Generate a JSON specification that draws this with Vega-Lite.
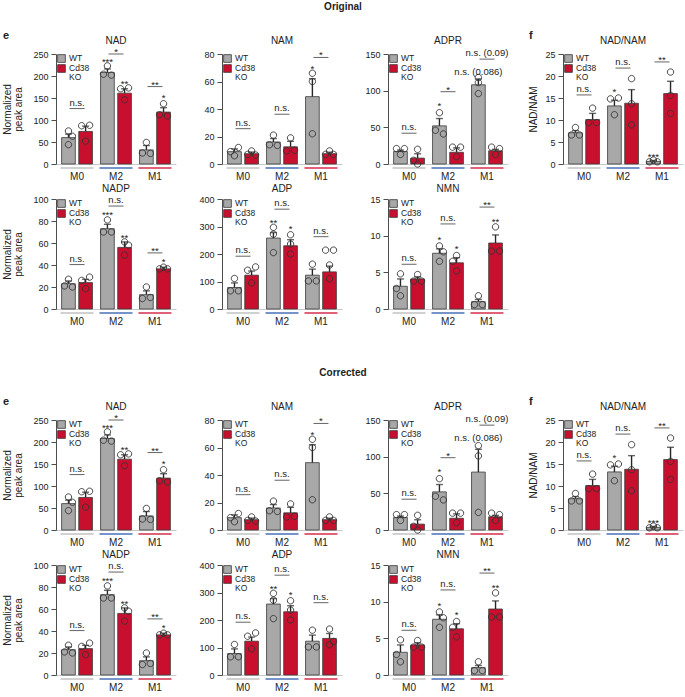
{
"$schema":"https://vega.github.io/schema/vega-lite/v6.json",
"padding":{"left":2,"right":2,"top":2,"bottom":0},
"config":{"view":{"stroke":null},"font":"Liberation Sans",
"axis":{"labelFontSize":9,"labelColor":"#222222","tickColor":"#4d4d4d","domainColor":"#4d4d4d","tickSize":5,"labelPadding":3,"titleFontSize":10,"titleFontWeight":"normal","titleColor":"#222222","grid":false,"titlePadding":9,"titleLineHeight":11},
"title":{"fontSize":10,"fontWeight":"normal","color":"#222222","offset":5}},
"datasets":{"d":[
{"p":"NAD","g":"M0","gt":"WT","k":"bar","v":60,"hi":68},
{"p":"NAD","g":"M0","gt":"KO","k":"bar","v":74,"hi":86},
{"p":"NAD","g":"M2","gt":"WT","k":"bar","v":208,"hi":216},
{"p":"NAD","g":"M2","gt":"KO","k":"bar","v":161,"hi":171},
{"p":"NAD","g":"M1","gt":"WT","k":"bar","v":32,"hi":42},
{"p":"NAD","g":"M1","gt":"KO","k":"bar","v":118,"hi":128},
{"p":"NAD","g":"M0","gt":"WT","k":"pt","r":2,"v":75},
{"p":"NAD","g":"M0","gt":"WT","k":"pt","r":3,"v":63},
{"p":"NAD","g":"M0","gt":"WT","k":"pt","r":2,"v":44},
{"p":"NAD","g":"M0","gt":"KO","k":"pt","r":1,"v":87},
{"p":"NAD","g":"M0","gt":"KO","k":"pt","r":3,"v":88},
{"p":"NAD","g":"M0","gt":"KO","k":"pt","r":2,"v":52},
{"p":"NAD","g":"M2","gt":"WT","k":"pt","r":2,"v":223},
{"p":"NAD","g":"M2","gt":"WT","k":"pt","r":1,"v":204},
{"p":"NAD","g":"M2","gt":"WT","k":"pt","r":3,"v":202},
{"p":"NAD","g":"M2","gt":"KO","k":"pt","r":1,"v":171},
{"p":"NAD","g":"M2","gt":"KO","k":"pt","r":3,"v":173},
{"p":"NAD","g":"M2","gt":"KO","k":"pt","r":2,"v":146},
{"p":"NAD","g":"M1","gt":"WT","k":"pt","r":2,"v":49},
{"p":"NAD","g":"M1","gt":"WT","k":"pt","r":1,"v":25},
{"p":"NAD","g":"M1","gt":"WT","k":"pt","r":3,"v":24},
{"p":"NAD","g":"M1","gt":"KO","k":"pt","r":2,"v":137},
{"p":"NAD","g":"M1","gt":"KO","k":"pt","r":1,"v":112},
{"p":"NAD","g":"M1","gt":"KO","k":"pt","r":3,"v":109},
{"p":"NAD","g":"M2","gt":"WT","k":"st","t":"***","v":224},
{"p":"NAD","g":"M2","gt":"KO","k":"st","t":"**","v":176},
{"p":"NAD","g":"M1","gt":"KO","k":"st","t":"*","v":143},
{"p":"NAD","g":"M0","k":"br","t":"n.s.","v":126},
{"p":"NAD","g":"M2","k":"br","t":"*","v":250},
{"p":"NAD","g":"M1","k":"br","t":"**","v":176},
{"p":"NAM","g":"M0","gt":"WT","k":"bar","v":9,"hi":11},
{"p":"NAM","g":"M0","gt":"KO","k":"bar","v":7.5,"hi":8.7},
{"p":"NAM","g":"M2","gt":"WT","k":"bar","v":16,"hi":18.5},
{"p":"NAM","g":"M2","gt":"KO","k":"bar","v":12.5,"hi":16.5},
{"p":"NAM","g":"M1","gt":"WT","k":"bar","v":49,"hi":62},
{"p":"NAM","g":"M1","gt":"KO","k":"bar","v":7.5,"hi":8.6},
{"p":"NAM","g":"M0","gt":"WT","k":"pt","r":3,"v":12},
{"p":"NAM","g":"M0","gt":"WT","k":"pt","r":1,"v":9},
{"p":"NAM","g":"M0","gt":"WT","k":"pt","r":2,"v":6},
{"p":"NAM","g":"M0","gt":"KO","k":"pt","r":2,"v":9.5},
{"p":"NAM","g":"M0","gt":"KO","k":"pt","r":1,"v":7},
{"p":"NAM","g":"M0","gt":"KO","k":"pt","r":3,"v":6.5},
{"p":"NAM","g":"M2","gt":"WT","k":"pt","r":2,"v":21},
{"p":"NAM","g":"M2","gt":"WT","k":"pt","r":1,"v":14},
{"p":"NAM","g":"M2","gt":"WT","k":"pt","r":3,"v":13.5},
{"p":"NAM","g":"M2","gt":"KO","k":"pt","r":2,"v":19},
{"p":"NAM","g":"M2","gt":"KO","k":"pt","r":1,"v":9.5},
{"p":"NAM","g":"M2","gt":"KO","k":"pt","r":3,"v":10},
{"p":"NAM","g":"M1","gt":"WT","k":"pt","r":2,"v":66},
{"p":"NAM","g":"M1","gt":"WT","k":"pt","r":2,"v":60},
{"p":"NAM","g":"M1","gt":"WT","k":"pt","r":2,"v":22},
{"p":"NAM","g":"M1","gt":"KO","k":"pt","r":2,"v":9.5},
{"p":"NAM","g":"M1","gt":"KO","k":"pt","r":1,"v":7},
{"p":"NAM","g":"M1","gt":"KO","k":"pt","r":3,"v":7},
{"p":"NAM","g":"M1","gt":"WT","k":"st","t":"*","v":67},
{"p":"NAM","g":"M0","k":"br","t":"n.s.","v":25.7},
{"p":"NAM","g":"M2","k":"br","t":"n.s.","v":36.2},
{"p":"NAM","g":"M1","k":"br","t":"*","v":77.5},
{"p":"ADPR","g":"M0","gt":"WT","k":"bar","v":17,"hi":19},
{"p":"ADPR","g":"M0","gt":"KO","k":"bar","v":8,"hi":14},
{"p":"ADPR","g":"M2","gt":"WT","k":"bar","v":52,"hi":62},
{"p":"ADPR","g":"M2","gt":"KO","k":"bar","v":16,"hi":22},
{"s":"O","p":"ADPR","g":"M1","gt":"WT","k":"bar","v":108,"hi":116},
{"s":"C","p":"ADPR","g":"M1","gt":"WT","k":"bar","v":79,"hi":110},
{"p":"ADPR","g":"M1","gt":"KO","k":"bar","v":18,"hi":20},
{"p":"ADPR","g":"M0","gt":"WT","k":"pt","r":1,"v":21},
{"p":"ADPR","g":"M0","gt":"WT","k":"pt","r":3,"v":21},
{"p":"ADPR","g":"M0","gt":"WT","k":"pt","r":2,"v":13},
{"p":"ADPR","g":"M0","gt":"KO","k":"pt","r":2,"v":20},
{"p":"ADPR","g":"M0","gt":"KO","k":"pt","r":1,"v":5},
{"p":"ADPR","g":"M0","gt":"KO","k":"pt","r":2,"v":0},
{"p":"ADPR","g":"M2","gt":"WT","k":"pt","r":2,"v":70},
{"p":"ADPR","g":"M2","gt":"WT","k":"pt","r":1,"v":46},
{"p":"ADPR","g":"M2","gt":"WT","k":"pt","r":3,"v":41},
{"p":"ADPR","g":"M2","gt":"KO","k":"pt","r":1,"v":23},
{"p":"ADPR","g":"M2","gt":"KO","k":"pt","r":3,"v":23},
{"p":"ADPR","g":"M2","gt":"KO","k":"pt","r":2,"v":10},
{"s":"O","p":"ADPR","g":"M1","gt":"WT","k":"pt","r":2,"v":118},
{"s":"O","p":"ADPR","g":"M1","gt":"WT","k":"pt","r":2,"v":111},
{"s":"O","p":"ADPR","g":"M1","gt":"WT","k":"pt","r":2,"v":96},
{"s":"C","p":"ADPR","g":"M1","gt":"WT","k":"pt","r":2,"v":115},
{"s":"C","p":"ADPR","g":"M1","gt":"WT","k":"pt","r":2,"v":101},
{"s":"C","p":"ADPR","g":"M1","gt":"WT","k":"pt","r":2,"v":24},
{"p":"ADPR","g":"M1","gt":"KO","k":"pt","r":1,"v":23},
{"p":"ADPR","g":"M1","gt":"KO","k":"pt","r":3,"v":21},
{"p":"ADPR","g":"M1","gt":"KO","k":"pt","r":2,"v":13},
{"p":"ADPR","g":"M2","gt":"WT","k":"st","t":"*","v":75},
{"p":"ADPR","g":"M1","gt":"WT","k":"st","t":"n.s. (0.086)","v":122},
{"p":"ADPR","g":"M0","k":"br","t":"n.s.","v":42},
{"p":"ADPR","g":"M2","k":"br","t":"*","v":98.6},
{"p":"ADPR","g":"M1","k":"br","t":"n.s. (0.09)","v":143},
{"p":"RAT","g":"M0","gt":"WT","k":"bar","v":7.1,"hi":7.6},
{"p":"RAT","g":"M0","gt":"KO","k":"bar","v":10.1,"hi":11.5},
{"p":"RAT","g":"M2","gt":"WT","k":"bar","v":13.2,"hi":14.5},
{"p":"RAT","g":"M2","gt":"KO","k":"bar","v":13.8,"hi":16.9},
{"p":"RAT","g":"M1","gt":"WT","k":"bar","v":0.6,"hi":0.8},
{"p":"RAT","g":"M1","gt":"KO","k":"bar","v":16,"hi":18.8},
{"p":"RAT","g":"M0","gt":"WT","k":"pt","r":2,"v":8.3},
{"p":"RAT","g":"M0","gt":"WT","k":"pt","r":1,"v":6.6},
{"p":"RAT","g":"M0","gt":"WT","k":"pt","r":3,"v":6.6},
{"p":"RAT","g":"M0","gt":"KO","k":"pt","r":2,"v":12.7},
{"p":"RAT","g":"M0","gt":"KO","k":"pt","r":1,"v":9.4},
{"p":"RAT","g":"M0","gt":"KO","k":"pt","r":3,"v":9.4},
{"p":"RAT","g":"M2","gt":"WT","k":"pt","r":3,"v":15},
{"p":"RAT","g":"M2","gt":"WT","k":"pt","r":1,"v":14.8},
{"p":"RAT","g":"M2","gt":"WT","k":"pt","r":2,"v":11.2},
{"p":"RAT","g":"M2","gt":"KO","k":"pt","r":2,"v":19.4},
{"p":"RAT","g":"M2","gt":"KO","k":"pt","r":2,"v":13.7},
{"p":"RAT","g":"M2","gt":"KO","k":"pt","r":2,"v":8.9},
{"p":"RAT","g":"M1","gt":"WT","k":"pt","r":2,"v":0.9},
{"p":"RAT","g":"M1","gt":"WT","k":"pt","r":1,"v":0.5},
{"p":"RAT","g":"M1","gt":"WT","k":"pt","r":3,"v":0.5},
{"p":"RAT","g":"M1","gt":"KO","k":"pt","r":2,"v":20.9},
{"p":"RAT","g":"M1","gt":"KO","k":"pt","r":2,"v":15.6},
{"p":"RAT","g":"M1","gt":"KO","k":"pt","r":2,"v":11.5},
{"p":"RAT","g":"M2","gt":"WT","k":"st","t":"*","v":15.6},
{"p":"RAT","g":"M1","gt":"WT","k":"st","t":"***","v":0.8},
{"p":"RAT","g":"M0","k":"br","t":"n.s.","v":15.7},
{"p":"RAT","g":"M2","k":"br","t":"n.s.","v":21.8},
{"p":"RAT","g":"M1","k":"br","t":"**","v":23.2},
{"p":"NADP","g":"M0","gt":"WT","k":"bar","v":23,"hi":25.5},
{"p":"NADP","g":"M0","gt":"KO","k":"bar","v":24,"hi":27},
{"p":"NADP","g":"M2","gt":"WT","k":"bar","v":73,"hi":77},
{"p":"NADP","g":"M2","gt":"KO","k":"bar","v":56,"hi":61},
{"p":"NADP","g":"M1","gt":"WT","k":"bar","v":13,"hi":16.5},
{"p":"NADP","g":"M1","gt":"KO","k":"bar","v":36.5,"hi":38},
{"p":"NADP","g":"M0","gt":"WT","k":"pt","r":2,"v":27},
{"p":"NADP","g":"M0","gt":"WT","k":"pt","r":1,"v":21},
{"p":"NADP","g":"M0","gt":"WT","k":"pt","r":3,"v":20},
{"p":"NADP","g":"M0","gt":"KO","k":"pt","r":3,"v":29},
{"p":"NADP","g":"M0","gt":"KO","k":"pt","r":1,"v":26},
{"p":"NADP","g":"M0","gt":"KO","k":"pt","r":2,"v":18.5},
{"p":"NADP","g":"M2","gt":"WT","k":"pt","r":2,"v":81},
{"p":"NADP","g":"M2","gt":"WT","k":"pt","r":1,"v":70},
{"p":"NADP","g":"M2","gt":"WT","k":"pt","r":3,"v":70},
{"p":"NADP","g":"M2","gt":"KO","k":"pt","r":2,"v":61},
{"p":"NADP","g":"M2","gt":"KO","k":"pt","r":3,"v":58},
{"p":"NADP","g":"M2","gt":"KO","k":"pt","r":2,"v":49},
{"p":"NADP","g":"M1","gt":"WT","k":"pt","r":2,"v":20},
{"p":"NADP","g":"M1","gt":"WT","k":"pt","r":1,"v":9.5},
{"p":"NADP","g":"M1","gt":"WT","k":"pt","r":3,"v":10.5},
{"p":"NADP","g":"M1","gt":"KO","k":"pt","r":2,"v":38},
{"p":"NADP","g":"M1","gt":"KO","k":"pt","r":1,"v":36.5},
{"p":"NADP","g":"M1","gt":"KO","k":"pt","r":3,"v":36.5},
{"p":"NADP","g":"M2","gt":"WT","k":"st","t":"***","v":82.5},
{"p":"NADP","g":"M2","gt":"KO","k":"st","t":"**","v":62},
{"p":"NADP","g":"M1","gt":"KO","k":"st","t":"*","v":40},
{"p":"NADP","g":"M0","k":"br","t":"n.s.","v":40.4},
{"p":"NADP","g":"M2","k":"br","t":"n.s.","v":93.6},
{"p":"NADP","g":"M1","k":"br","t":"**","v":51},
{"p":"ADP","g":"M0","gt":"WT","k":"bar","v":78,"hi":95},
{"p":"ADP","g":"M0","gt":"KO","k":"bar","v":123,"hi":138},
{"p":"ADP","g":"M2","gt":"WT","k":"bar","v":258,"hi":278},
{"p":"ADP","g":"M2","gt":"KO","k":"bar","v":230,"hi":252},
{"p":"ADP","g":"M1","gt":"WT","k":"bar","v":123,"hi":145},
{"s":"O","p":"ADP","g":"M1","gt":"KO","k":"bar","v":135,"hi":156},
{"s":"C","p":"ADP","g":"M1","gt":"KO","k":"bar","v":133,"hi":151},
{"p":"ADP","g":"M0","gt":"WT","k":"pt","r":2,"v":111},
{"p":"ADP","g":"M0","gt":"WT","k":"pt","r":1,"v":66},
{"p":"ADP","g":"M0","gt":"WT","k":"pt","r":3,"v":66},
{"p":"ADP","g":"M0","gt":"KO","k":"pt","r":3,"v":153},
{"p":"ADP","g":"M0","gt":"KO","k":"pt","r":1,"v":141},
{"p":"ADP","g":"M0","gt":"KO","k":"pt","r":2,"v":95},
{"p":"ADP","g":"M2","gt":"WT","k":"pt","r":2,"v":297},
{"p":"ADP","g":"M2","gt":"WT","k":"pt","r":2,"v":272},
{"p":"ADP","g":"M2","gt":"WT","k":"pt","r":2,"v":205},
{"p":"ADP","g":"M2","gt":"KO","k":"pt","r":2,"v":270},
{"p":"ADP","g":"M2","gt":"KO","k":"pt","r":2,"v":236},
{"p":"ADP","g":"M2","gt":"KO","k":"pt","r":2,"v":200},
{"p":"ADP","g":"M1","gt":"WT","k":"pt","r":2,"v":163},
{"p":"ADP","g":"M1","gt":"WT","k":"pt","r":1,"v":102},
{"p":"ADP","g":"M1","gt":"WT","k":"pt","r":3,"v":102},
{"s":"O","p":"ADP","g":"M1","gt":"KO","k":"pt","r":1,"v":214},
{"s":"O","p":"ADP","g":"M1","gt":"KO","k":"pt","r":3,"v":214},
{"s":"O","p":"ADP","g":"M1","gt":"KO","k":"pt","r":2,"v":160},
{"s":"O","p":"ADP","g":"M1","gt":"KO","k":"pt","r":2,"v":110},
{"s":"C","p":"ADP","g":"M1","gt":"KO","k":"pt","r":2,"v":167},
{"s":"C","p":"ADP","g":"M1","gt":"KO","k":"pt","r":3,"v":122},
{"s":"C","p":"ADP","g":"M1","gt":"KO","k":"pt","r":2,"v":110},
{"p":"ADP","g":"M2","gt":"WT","k":"st","t":"**","v":303},
{"p":"ADP","g":"M2","gt":"KO","k":"st","t":"*","v":279},
{"p":"ADP","g":"M0","k":"br","t":"n.s.","v":192},
{"p":"ADP","g":"M2","k":"br","t":"n.s.","v":363},
{"p":"ADP","g":"M1","k":"br","t":"n.s.","v":263},
{"p":"NMN","g":"M0","gt":"WT","k":"bar","v":3.1,"hi":4.1},
{"p":"NMN","g":"M0","gt":"KO","k":"bar","v":4.1,"hi":4.4},
{"p":"NMN","g":"M2","gt":"WT","k":"bar","v":7.6,"hi":8.2},
{"p":"NMN","g":"M2","gt":"KO","k":"bar","v":6.3,"hi":7.0},
{"p":"NMN","g":"M1","gt":"WT","k":"bar","v":1.0,"hi":1.3},
{"p":"NMN","g":"M1","gt":"KO","k":"bar","v":9.0,"hi":10.1},
{"p":"NMN","g":"M0","gt":"WT","k":"pt","r":2,"v":4.8},
{"p":"NMN","g":"M0","gt":"WT","k":"pt","r":1,"v":2.8},
{"p":"NMN","g":"M0","gt":"WT","k":"pt","r":2,"v":1.8},
{"p":"NMN","g":"M0","gt":"KO","k":"pt","r":2,"v":4.7},
{"p":"NMN","g":"M0","gt":"KO","k":"pt","r":1,"v":3.8},
{"p":"NMN","g":"M0","gt":"KO","k":"pt","r":3,"v":3.8},
{"p":"NMN","g":"M2","gt":"WT","k":"pt","r":2,"v":8.6},
{"p":"NMN","g":"M2","gt":"WT","k":"pt","r":3,"v":7.8},
{"p":"NMN","g":"M2","gt":"WT","k":"pt","r":2,"v":6.5},
{"p":"NMN","g":"M2","gt":"KO","k":"pt","r":2,"v":7.3},
{"p":"NMN","g":"M2","gt":"KO","k":"pt","r":1,"v":6.5},
{"p":"NMN","g":"M2","gt":"KO","k":"pt","r":2,"v":5.2},
{"p":"NMN","g":"M1","gt":"WT","k":"pt","r":2,"v":1.8},
{"p":"NMN","g":"M1","gt":"WT","k":"pt","r":1,"v":0.6},
{"p":"NMN","g":"M1","gt":"WT","k":"pt","r":3,"v":0.6},
{"p":"NMN","g":"M1","gt":"KO","k":"pt","r":2,"v":11.2},
{"p":"NMN","g":"M1","gt":"KO","k":"pt","r":1,"v":7.9},
{"p":"NMN","g":"M1","gt":"KO","k":"pt","r":3,"v":7.9},
{"p":"NMN","g":"M2","gt":"WT","k":"st","t":"*","v":9.0},
{"p":"NMN","g":"M2","gt":"KO","k":"st","t":"*","v":7.8},
{"p":"NMN","g":"M1","gt":"KO","k":"st","t":"**","v":11.4},
{"p":"NMN","g":"M0","k":"br","t":"n.s.","v":6.1},
{"p":"NMN","g":"M2","k":"br","t":"n.s.","v":11.6},
{"p":"NMN","g":"M1","k":"br","t":"**","v":13.9}
]},
"spacing":42,
"resolve":{"scale":{"fill":"independent","xOffset":"independent","color":"independent","shape":"independent"}},
"vconcat":[
{"title":{"text":"Original","fontSize":10,"fontWeight":"bold","anchor":"middle","offset":18},
"spacing":19,
"resolve":{"scale":{"fill":"independent","xOffset":"independent","color":"independent","shape":"independent"}},
"hconcat":[
{"title":{"text":"e","anchor":"start","fontWeight":"bold","fontSize":11,"offset":-5},
"columns":3,"spacing":{"row":3,"column":22},
"resolve":{"scale":{"fill":"independent","xOffset":"independent","color":"independent","shape":"independent"}},
"concat":[
{"width":120,"height":110,"data":{"name":"d"},"transform":[{"filter":"datum.p=='NAD'&&datum.s!='C'"}],"encoding":{"x":{"field":"g","type":"nominal","sort":["M0","M2","M1"],"scale":{"paddingInner":0.12,"paddingOuter":0.1},"axis":{"title":null,"labelAngle":0,"ticks":false,"tickSize":0,"labelPadding":7,"domainColor":"#c8c8c8","labelFontSize":10}},"y":{"field":"v","type":"quantitative","scale":{"domain":[0,250],"nice":false},"axis":{"values":[0,50,100,150,200,250],"title":["Normalized","peak area"]}}},
"layer":[{"transform":[{"filter":"datum.k=='bar'&&datum.gt=='WT'&&datum.g=='M2'"}],"mark":{"type":"text","fontSize":10,"baseline":"middle","dy":-13,"color":"#222222"},"encoding":{"y":{"datum":250},"text":{"value":"NAD"}}},{"transform":[{"filter":"datum.k=='bar'&&datum.gt=='WT'"}],"mark":{"type":"tick","size":33,"thickness":2,"yOffset":4},"encoding":{"y":{"datum":0},"color":{"field":"g","type":"nominal","scale":{"domain":["M0","M2","M1"],"range":["#bdbdbd","#3d66b4","#d3203f"]},"legend":null}}},{"transform":[{"filter":"datum.k=='bar'"}],"mark":{"type":"bar","stroke":"#3a3a3a","strokeWidth":0.8},"encoding":{"xOffset":{"field":"gt","type":"nominal","sort":["WT","KO"],"scale":{"paddingInner":0.2,"paddingOuter":0.1}},"fill":{"field":"gt","type":"nominal","scale":{"domain":["WT","KO"],"range":["#a8a8a8","#c8102e"]},"legend":{"title":null,"orient":"none","legendX":1,"legendY":0,"padding":0,"symbolType":"square","symbolSize":60,"symbolStrokeColor":"#3a3a3a","symbolStrokeWidth":0.8,"labelFontSize":8.5,"labelColor":"#222222","labelOffset":3,"labelBaseline":"top","rowPadding":-4,"labelExpr":"datum.value=='KO'?['Cd38','KO']:datum.label","encode":{"labels":{"update":{"dy":{"value":-4.5},"lineHeight":{"value":8.5}}}}}}}},{"transform":[{"filter":"datum.k=='bar'"}],"mark":{"type":"rule","color":"#262626","strokeWidth":1.4},"encoding":{"xOffset":{"field":"gt","type":"nominal","sort":["WT","KO"]},"y2":{"field":"hi"}}},{"transform":[{"filter":"datum.k=='bar'"}],"mark":{"type":"tick","color":"#262626","size":7,"thickness":1.4},"encoding":{"xOffset":{"field":"gt","type":"nominal","sort":["WT","KO"]},"y":{"field":"hi","type":"quantitative"}}},{"transform":[{"filter":"datum.k=='pt'"}],"mark":{"type":"point","filled":false,"stroke":"#333333","strokeWidth":0.9,"size":32,"opacity":1},"encoding":{"xOffset":{"field":"gt","type":"nominal","sort":["WT","KO"]},"shape":{"field":"r","type":"nominal","scale":{"domain":[1,2,3],"range":["M-2.53,0A1.13,1.13,0,1,0,-0.27,0A1.13,1.13,0,1,0,-2.53,0Z","M-1.13,0A1.13,1.13,0,1,0,1.13,0A1.13,1.13,0,1,0,-1.13,0Z","M0.27,0A1.13,1.13,0,1,0,2.53,0A1.13,1.13,0,1,0,0.27,0Z"]},"legend":null}}},{"transform":[{"filter":"datum.k=='st'"}],"mark":{"type":"text","fontSize":9.5,"baseline":"alphabetic","color":"#222222"},"encoding":{"xOffset":{"field":"gt","type":"nominal","sort":["WT","KO"]},"text":{"field":"t"}}},{"transform":[{"filter":"datum.k=='br'"}],"mark":{"type":"tick","size":15,"thickness":1,"color":"#222222"},"encoding":{}},{"transform":[{"filter":"datum.k=='br'&&indexof(datum.t,'*')<0"}],"mark":{"type":"text","fontSize":9.5,"baseline":"alphabetic","dy":-3,"color":"#222222"},"encoding":{"text":{"field":"t"}}},{"transform":[{"filter":"datum.k=='br'&&indexof(datum.t,'*')>=0"}],"mark":{"type":"text","fontSize":9.5,"baseline":"alphabetic","dy":1,"color":"#222222"},"encoding":{"text":{"field":"t"}}}]},
{"width":120,"height":110,"data":{"name":"d"},"transform":[{"filter":"datum.p=='NAM'&&datum.s!='C'"}],"encoding":{"x":{"field":"g","type":"nominal","sort":["M0","M2","M1"],"scale":{"paddingInner":0.12,"paddingOuter":0.1},"axis":{"title":null,"labelAngle":0,"ticks":false,"tickSize":0,"labelPadding":7,"domainColor":"#c8c8c8","labelFontSize":10}},"y":{"field":"v","type":"quantitative","scale":{"domain":[0,80],"nice":false},"axis":{"values":[0,20,40,60,80],"title":null}}},
"layer":[{"transform":[{"filter":"datum.k=='bar'&&datum.gt=='WT'&&datum.g=='M2'"}],"mark":{"type":"text","fontSize":10,"baseline":"middle","dy":-13,"color":"#222222"},"encoding":{"y":{"datum":80},"text":{"value":"NAM"}}},{"transform":[{"filter":"datum.k=='bar'&&datum.gt=='WT'"}],"mark":{"type":"tick","size":33,"thickness":2,"yOffset":4},"encoding":{"y":{"datum":0},"color":{"field":"g","type":"nominal","scale":{"domain":["M0","M2","M1"],"range":["#bdbdbd","#3d66b4","#d3203f"]},"legend":null}}},{"transform":[{"filter":"datum.k=='bar'"}],"mark":{"type":"bar","stroke":"#3a3a3a","strokeWidth":0.8},"encoding":{"xOffset":{"field":"gt","type":"nominal","sort":["WT","KO"],"scale":{"paddingInner":0.2,"paddingOuter":0.1}},"fill":{"field":"gt","type":"nominal","scale":{"domain":["WT","KO"],"range":["#a8a8a8","#c8102e"]},"legend":{"title":null,"orient":"none","legendX":1,"legendY":0,"padding":0,"symbolType":"square","symbolSize":60,"symbolStrokeColor":"#3a3a3a","symbolStrokeWidth":0.8,"labelFontSize":8.5,"labelColor":"#222222","labelOffset":3,"labelBaseline":"top","rowPadding":-4,"labelExpr":"datum.value=='KO'?['Cd38','KO']:datum.label","encode":{"labels":{"update":{"dy":{"value":-4.5},"lineHeight":{"value":8.5}}}}}}}},{"transform":[{"filter":"datum.k=='bar'"}],"mark":{"type":"rule","color":"#262626","strokeWidth":1.4},"encoding":{"xOffset":{"field":"gt","type":"nominal","sort":["WT","KO"]},"y2":{"field":"hi"}}},{"transform":[{"filter":"datum.k=='bar'"}],"mark":{"type":"tick","color":"#262626","size":7,"thickness":1.4},"encoding":{"xOffset":{"field":"gt","type":"nominal","sort":["WT","KO"]},"y":{"field":"hi","type":"quantitative"}}},{"transform":[{"filter":"datum.k=='pt'"}],"mark":{"type":"point","filled":false,"stroke":"#333333","strokeWidth":0.9,"size":32,"opacity":1},"encoding":{"xOffset":{"field":"gt","type":"nominal","sort":["WT","KO"]},"shape":{"field":"r","type":"nominal","scale":{"domain":[1,2,3],"range":["M-2.53,0A1.13,1.13,0,1,0,-0.27,0A1.13,1.13,0,1,0,-2.53,0Z","M-1.13,0A1.13,1.13,0,1,0,1.13,0A1.13,1.13,0,1,0,-1.13,0Z","M0.27,0A1.13,1.13,0,1,0,2.53,0A1.13,1.13,0,1,0,0.27,0Z"]},"legend":null}}},{"transform":[{"filter":"datum.k=='st'"}],"mark":{"type":"text","fontSize":9.5,"baseline":"alphabetic","color":"#222222"},"encoding":{"xOffset":{"field":"gt","type":"nominal","sort":["WT","KO"]},"text":{"field":"t"}}},{"transform":[{"filter":"datum.k=='br'"}],"mark":{"type":"tick","size":15,"thickness":1,"color":"#222222"},"encoding":{}},{"transform":[{"filter":"datum.k=='br'&&indexof(datum.t,'*')<0"}],"mark":{"type":"text","fontSize":9.5,"baseline":"alphabetic","dy":-3,"color":"#222222"},"encoding":{"text":{"field":"t"}}},{"transform":[{"filter":"datum.k=='br'&&indexof(datum.t,'*')>=0"}],"mark":{"type":"text","fontSize":9.5,"baseline":"alphabetic","dy":1,"color":"#222222"},"encoding":{"text":{"field":"t"}}}]},
{"width":120,"height":110,"data":{"name":"d"},"transform":[{"filter":"datum.p=='ADPR'&&datum.s!='C'"}],"encoding":{"x":{"field":"g","type":"nominal","sort":["M0","M2","M1"],"scale":{"paddingInner":0.12,"paddingOuter":0.1},"axis":{"title":null,"labelAngle":0,"ticks":false,"tickSize":0,"labelPadding":7,"domainColor":"#c8c8c8","labelFontSize":10}},"y":{"field":"v","type":"quantitative","scale":{"domain":[0,150],"nice":false},"axis":{"values":[0,50,100,150],"title":null}}},
"layer":[{"transform":[{"filter":"datum.k=='bar'&&datum.gt=='WT'&&datum.g=='M2'"}],"mark":{"type":"text","fontSize":10,"baseline":"middle","dy":-13,"color":"#222222"},"encoding":{"y":{"datum":150},"text":{"value":"ADPR"}}},{"transform":[{"filter":"datum.k=='bar'&&datum.gt=='WT'"}],"mark":{"type":"tick","size":33,"thickness":2,"yOffset":4},"encoding":{"y":{"datum":0},"color":{"field":"g","type":"nominal","scale":{"domain":["M0","M2","M1"],"range":["#bdbdbd","#3d66b4","#d3203f"]},"legend":null}}},{"transform":[{"filter":"datum.k=='bar'"}],"mark":{"type":"bar","stroke":"#3a3a3a","strokeWidth":0.8},"encoding":{"xOffset":{"field":"gt","type":"nominal","sort":["WT","KO"],"scale":{"paddingInner":0.2,"paddingOuter":0.1}},"fill":{"field":"gt","type":"nominal","scale":{"domain":["WT","KO"],"range":["#a8a8a8","#c8102e"]},"legend":{"title":null,"orient":"none","legendX":1,"legendY":0,"padding":0,"symbolType":"square","symbolSize":60,"symbolStrokeColor":"#3a3a3a","symbolStrokeWidth":0.8,"labelFontSize":8.5,"labelColor":"#222222","labelOffset":3,"labelBaseline":"top","rowPadding":-4,"labelExpr":"datum.value=='KO'?['Cd38','KO']:datum.label","encode":{"labels":{"update":{"dy":{"value":-4.5},"lineHeight":{"value":8.5}}}}}}}},{"transform":[{"filter":"datum.k=='bar'"}],"mark":{"type":"rule","color":"#262626","strokeWidth":1.4},"encoding":{"xOffset":{"field":"gt","type":"nominal","sort":["WT","KO"]},"y2":{"field":"hi"}}},{"transform":[{"filter":"datum.k=='bar'"}],"mark":{"type":"tick","color":"#262626","size":7,"thickness":1.4},"encoding":{"xOffset":{"field":"gt","type":"nominal","sort":["WT","KO"]},"y":{"field":"hi","type":"quantitative"}}},{"transform":[{"filter":"datum.k=='pt'"}],"mark":{"type":"point","filled":false,"stroke":"#333333","strokeWidth":0.9,"size":32,"opacity":1},"encoding":{"xOffset":{"field":"gt","type":"nominal","sort":["WT","KO"]},"shape":{"field":"r","type":"nominal","scale":{"domain":[1,2,3],"range":["M-2.53,0A1.13,1.13,0,1,0,-0.27,0A1.13,1.13,0,1,0,-2.53,0Z","M-1.13,0A1.13,1.13,0,1,0,1.13,0A1.13,1.13,0,1,0,-1.13,0Z","M0.27,0A1.13,1.13,0,1,0,2.53,0A1.13,1.13,0,1,0,0.27,0Z"]},"legend":null}}},{"transform":[{"filter":"datum.k=='st'"}],"mark":{"type":"text","fontSize":9.5,"baseline":"alphabetic","color":"#222222"},"encoding":{"xOffset":{"field":"gt","type":"nominal","sort":["WT","KO"]},"text":{"field":"t"}}},{"transform":[{"filter":"datum.k=='br'"}],"mark":{"type":"tick","size":15,"thickness":1,"color":"#222222"},"encoding":{}},{"transform":[{"filter":"datum.k=='br'&&indexof(datum.t,'*')<0"}],"mark":{"type":"text","fontSize":9.5,"baseline":"alphabetic","dy":-3,"color":"#222222"},"encoding":{"text":{"field":"t"}}},{"transform":[{"filter":"datum.k=='br'&&indexof(datum.t,'*')>=0"}],"mark":{"type":"text","fontSize":9.5,"baseline":"alphabetic","dy":1,"color":"#222222"},"encoding":{"text":{"field":"t"}}}]},
{"width":120,"height":110,"data":{"name":"d"},"transform":[{"filter":"datum.p=='NADP'&&datum.s!='C'"}],"encoding":{"x":{"field":"g","type":"nominal","sort":["M0","M2","M1"],"scale":{"paddingInner":0.12,"paddingOuter":0.1},"axis":{"title":null,"labelAngle":0,"ticks":false,"tickSize":0,"labelPadding":7,"domainColor":"#c8c8c8","labelFontSize":10}},"y":{"field":"v","type":"quantitative","scale":{"domain":[0,100],"nice":false},"axis":{"values":[0,20,40,60,80,100],"title":["Normalized","peak area"]}}},
"layer":[{"transform":[{"filter":"datum.k=='bar'&&datum.gt=='WT'&&datum.g=='M2'"}],"mark":{"type":"text","fontSize":10,"baseline":"middle","dy":-10,"color":"#222222"},"encoding":{"y":{"datum":100},"text":{"value":"NADP"}}},{"transform":[{"filter":"datum.k=='bar'&&datum.gt=='WT'"}],"mark":{"type":"tick","size":33,"thickness":2,"yOffset":4},"encoding":{"y":{"datum":0},"color":{"field":"g","type":"nominal","scale":{"domain":["M0","M2","M1"],"range":["#bdbdbd","#3d66b4","#d3203f"]},"legend":null}}},{"transform":[{"filter":"datum.k=='bar'"}],"mark":{"type":"bar","stroke":"#3a3a3a","strokeWidth":0.8},"encoding":{"xOffset":{"field":"gt","type":"nominal","sort":["WT","KO"],"scale":{"paddingInner":0.2,"paddingOuter":0.1}},"fill":{"field":"gt","type":"nominal","scale":{"domain":["WT","KO"],"range":["#a8a8a8","#c8102e"]},"legend":{"title":null,"orient":"none","legendX":1,"legendY":0,"padding":0,"symbolType":"square","symbolSize":60,"symbolStrokeColor":"#3a3a3a","symbolStrokeWidth":0.8,"labelFontSize":8.5,"labelColor":"#222222","labelOffset":3,"labelBaseline":"top","rowPadding":-4,"labelExpr":"datum.value=='KO'?['Cd38','KO']:datum.label","encode":{"labels":{"update":{"dy":{"value":-4.5},"lineHeight":{"value":8.5}}}}}}}},{"transform":[{"filter":"datum.k=='bar'"}],"mark":{"type":"rule","color":"#262626","strokeWidth":1.4},"encoding":{"xOffset":{"field":"gt","type":"nominal","sort":["WT","KO"]},"y2":{"field":"hi"}}},{"transform":[{"filter":"datum.k=='bar'"}],"mark":{"type":"tick","color":"#262626","size":7,"thickness":1.4},"encoding":{"xOffset":{"field":"gt","type":"nominal","sort":["WT","KO"]},"y":{"field":"hi","type":"quantitative"}}},{"transform":[{"filter":"datum.k=='pt'"}],"mark":{"type":"point","filled":false,"stroke":"#333333","strokeWidth":0.9,"size":32,"opacity":1},"encoding":{"xOffset":{"field":"gt","type":"nominal","sort":["WT","KO"]},"shape":{"field":"r","type":"nominal","scale":{"domain":[1,2,3],"range":["M-2.53,0A1.13,1.13,0,1,0,-0.27,0A1.13,1.13,0,1,0,-2.53,0Z","M-1.13,0A1.13,1.13,0,1,0,1.13,0A1.13,1.13,0,1,0,-1.13,0Z","M0.27,0A1.13,1.13,0,1,0,2.53,0A1.13,1.13,0,1,0,0.27,0Z"]},"legend":null}}},{"transform":[{"filter":"datum.k=='st'"}],"mark":{"type":"text","fontSize":9.5,"baseline":"alphabetic","color":"#222222"},"encoding":{"xOffset":{"field":"gt","type":"nominal","sort":["WT","KO"]},"text":{"field":"t"}}},{"transform":[{"filter":"datum.k=='br'"}],"mark":{"type":"tick","size":15,"thickness":1,"color":"#222222"},"encoding":{}},{"transform":[{"filter":"datum.k=='br'&&indexof(datum.t,'*')<0"}],"mark":{"type":"text","fontSize":9.5,"baseline":"alphabetic","dy":-3,"color":"#222222"},"encoding":{"text":{"field":"t"}}},{"transform":[{"filter":"datum.k=='br'&&indexof(datum.t,'*')>=0"}],"mark":{"type":"text","fontSize":9.5,"baseline":"alphabetic","dy":1,"color":"#222222"},"encoding":{"text":{"field":"t"}}}]},
{"width":120,"height":110,"data":{"name":"d"},"transform":[{"filter":"datum.p=='ADP'&&datum.s!='C'"}],"encoding":{"x":{"field":"g","type":"nominal","sort":["M0","M2","M1"],"scale":{"paddingInner":0.12,"paddingOuter":0.1},"axis":{"title":null,"labelAngle":0,"ticks":false,"tickSize":0,"labelPadding":7,"domainColor":"#c8c8c8","labelFontSize":10}},"y":{"field":"v","type":"quantitative","scale":{"domain":[0,400],"nice":false},"axis":{"values":[0,100,200,300,400],"title":null}}},
"layer":[{"transform":[{"filter":"datum.k=='bar'&&datum.gt=='WT'&&datum.g=='M2'"}],"mark":{"type":"text","fontSize":10,"baseline":"middle","dy":-10,"color":"#222222"},"encoding":{"y":{"datum":400},"text":{"value":"ADP"}}},{"transform":[{"filter":"datum.k=='bar'&&datum.gt=='WT'"}],"mark":{"type":"tick","size":33,"thickness":2,"yOffset":4},"encoding":{"y":{"datum":0},"color":{"field":"g","type":"nominal","scale":{"domain":["M0","M2","M1"],"range":["#bdbdbd","#3d66b4","#d3203f"]},"legend":null}}},{"transform":[{"filter":"datum.k=='bar'"}],"mark":{"type":"bar","stroke":"#3a3a3a","strokeWidth":0.8},"encoding":{"xOffset":{"field":"gt","type":"nominal","sort":["WT","KO"],"scale":{"paddingInner":0.2,"paddingOuter":0.1}},"fill":{"field":"gt","type":"nominal","scale":{"domain":["WT","KO"],"range":["#a8a8a8","#c8102e"]},"legend":{"title":null,"orient":"none","legendX":1,"legendY":0,"padding":0,"symbolType":"square","symbolSize":60,"symbolStrokeColor":"#3a3a3a","symbolStrokeWidth":0.8,"labelFontSize":8.5,"labelColor":"#222222","labelOffset":3,"labelBaseline":"top","rowPadding":-4,"labelExpr":"datum.value=='KO'?['Cd38','KO']:datum.label","encode":{"labels":{"update":{"dy":{"value":-4.5},"lineHeight":{"value":8.5}}}}}}}},{"transform":[{"filter":"datum.k=='bar'"}],"mark":{"type":"rule","color":"#262626","strokeWidth":1.4},"encoding":{"xOffset":{"field":"gt","type":"nominal","sort":["WT","KO"]},"y2":{"field":"hi"}}},{"transform":[{"filter":"datum.k=='bar'"}],"mark":{"type":"tick","color":"#262626","size":7,"thickness":1.4},"encoding":{"xOffset":{"field":"gt","type":"nominal","sort":["WT","KO"]},"y":{"field":"hi","type":"quantitative"}}},{"transform":[{"filter":"datum.k=='pt'"}],"mark":{"type":"point","filled":false,"stroke":"#333333","strokeWidth":0.9,"size":32,"opacity":1},"encoding":{"xOffset":{"field":"gt","type":"nominal","sort":["WT","KO"]},"shape":{"field":"r","type":"nominal","scale":{"domain":[1,2,3],"range":["M-2.53,0A1.13,1.13,0,1,0,-0.27,0A1.13,1.13,0,1,0,-2.53,0Z","M-1.13,0A1.13,1.13,0,1,0,1.13,0A1.13,1.13,0,1,0,-1.13,0Z","M0.27,0A1.13,1.13,0,1,0,2.53,0A1.13,1.13,0,1,0,0.27,0Z"]},"legend":null}}},{"transform":[{"filter":"datum.k=='st'"}],"mark":{"type":"text","fontSize":9.5,"baseline":"alphabetic","color":"#222222"},"encoding":{"xOffset":{"field":"gt","type":"nominal","sort":["WT","KO"]},"text":{"field":"t"}}},{"transform":[{"filter":"datum.k=='br'"}],"mark":{"type":"tick","size":15,"thickness":1,"color":"#222222"},"encoding":{}},{"transform":[{"filter":"datum.k=='br'&&indexof(datum.t,'*')<0"}],"mark":{"type":"text","fontSize":9.5,"baseline":"alphabetic","dy":-3,"color":"#222222"},"encoding":{"text":{"field":"t"}}},{"transform":[{"filter":"datum.k=='br'&&indexof(datum.t,'*')>=0"}],"mark":{"type":"text","fontSize":9.5,"baseline":"alphabetic","dy":1,"color":"#222222"},"encoding":{"text":{"field":"t"}}}]},
{"width":120,"height":110,"data":{"name":"d"},"transform":[{"filter":"datum.p=='NMN'&&datum.s!='C'"}],"encoding":{"x":{"field":"g","type":"nominal","sort":["M0","M2","M1"],"scale":{"paddingInner":0.12,"paddingOuter":0.1},"axis":{"title":null,"labelAngle":0,"ticks":false,"tickSize":0,"labelPadding":7,"domainColor":"#c8c8c8","labelFontSize":10}},"y":{"field":"v","type":"quantitative","scale":{"domain":[0,15],"nice":false},"axis":{"values":[0,5,10,15],"title":null}}},
"layer":[{"transform":[{"filter":"datum.k=='bar'&&datum.gt=='WT'&&datum.g=='M2'"}],"mark":{"type":"text","fontSize":10,"baseline":"middle","dy":-10,"color":"#222222"},"encoding":{"y":{"datum":15},"text":{"value":"NMN"}}},{"transform":[{"filter":"datum.k=='bar'&&datum.gt=='WT'"}],"mark":{"type":"tick","size":33,"thickness":2,"yOffset":4},"encoding":{"y":{"datum":0},"color":{"field":"g","type":"nominal","scale":{"domain":["M0","M2","M1"],"range":["#bdbdbd","#3d66b4","#d3203f"]},"legend":null}}},{"transform":[{"filter":"datum.k=='bar'"}],"mark":{"type":"bar","stroke":"#3a3a3a","strokeWidth":0.8},"encoding":{"xOffset":{"field":"gt","type":"nominal","sort":["WT","KO"],"scale":{"paddingInner":0.2,"paddingOuter":0.1}},"fill":{"field":"gt","type":"nominal","scale":{"domain":["WT","KO"],"range":["#a8a8a8","#c8102e"]},"legend":{"title":null,"orient":"none","legendX":1,"legendY":0,"padding":0,"symbolType":"square","symbolSize":60,"symbolStrokeColor":"#3a3a3a","symbolStrokeWidth":0.8,"labelFontSize":8.5,"labelColor":"#222222","labelOffset":3,"labelBaseline":"top","rowPadding":-4,"labelExpr":"datum.value=='KO'?['Cd38','KO']:datum.label","encode":{"labels":{"update":{"dy":{"value":-4.5},"lineHeight":{"value":8.5}}}}}}}},{"transform":[{"filter":"datum.k=='bar'"}],"mark":{"type":"rule","color":"#262626","strokeWidth":1.4},"encoding":{"xOffset":{"field":"gt","type":"nominal","sort":["WT","KO"]},"y2":{"field":"hi"}}},{"transform":[{"filter":"datum.k=='bar'"}],"mark":{"type":"tick","color":"#262626","size":7,"thickness":1.4},"encoding":{"xOffset":{"field":"gt","type":"nominal","sort":["WT","KO"]},"y":{"field":"hi","type":"quantitative"}}},{"transform":[{"filter":"datum.k=='pt'"}],"mark":{"type":"point","filled":false,"stroke":"#333333","strokeWidth":0.9,"size":32,"opacity":1},"encoding":{"xOffset":{"field":"gt","type":"nominal","sort":["WT","KO"]},"shape":{"field":"r","type":"nominal","scale":{"domain":[1,2,3],"range":["M-2.53,0A1.13,1.13,0,1,0,-0.27,0A1.13,1.13,0,1,0,-2.53,0Z","M-1.13,0A1.13,1.13,0,1,0,1.13,0A1.13,1.13,0,1,0,-1.13,0Z","M0.27,0A1.13,1.13,0,1,0,2.53,0A1.13,1.13,0,1,0,0.27,0Z"]},"legend":null}}},{"transform":[{"filter":"datum.k=='st'"}],"mark":{"type":"text","fontSize":9.5,"baseline":"alphabetic","color":"#222222"},"encoding":{"xOffset":{"field":"gt","type":"nominal","sort":["WT","KO"]},"text":{"field":"t"}}},{"transform":[{"filter":"datum.k=='br'"}],"mark":{"type":"tick","size":15,"thickness":1,"color":"#222222"},"encoding":{}},{"transform":[{"filter":"datum.k=='br'&&indexof(datum.t,'*')<0"}],"mark":{"type":"text","fontSize":9.5,"baseline":"alphabetic","dy":-3,"color":"#222222"},"encoding":{"text":{"field":"t"}}},{"transform":[{"filter":"datum.k=='br'&&indexof(datum.t,'*')>=0"}],"mark":{"type":"text","fontSize":9.5,"baseline":"alphabetic","dy":1,"color":"#222222"},"encoding":{"text":{"field":"t"}}}]}
]},
{"title":{"text":"f","anchor":"start","fontWeight":"bold","fontSize":11,"offset":-5},
"resolve":{"scale":{"fill":"independent","xOffset":"independent","color":"independent","shape":"independent"}},
"vconcat":[
{"width":120,"height":110,"data":{"name":"d"},"transform":[{"filter":"datum.p=='RAT'&&datum.s!='C'"}],"encoding":{"x":{"field":"g","type":"nominal","sort":["M0","M2","M1"],"scale":{"paddingInner":0.12,"paddingOuter":0.1},"axis":{"title":null,"labelAngle":0,"ticks":false,"tickSize":0,"labelPadding":7,"domainColor":"#c8c8c8","labelFontSize":10}},"y":{"field":"v","type":"quantitative","scale":{"domain":[0,25],"nice":false},"axis":{"values":[0,5,10,15,20,25],"title":"NAD/NAM","titlePadding":6}}},
"layer":[{"transform":[{"filter":"datum.k=='bar'&&datum.gt=='WT'&&datum.g=='M2'"}],"mark":{"type":"text","fontSize":10,"baseline":"middle","dy":-13,"color":"#222222"},"encoding":{"y":{"datum":25},"text":{"value":"NAD/NAM"}}},{"transform":[{"filter":"datum.k=='bar'&&datum.gt=='WT'"}],"mark":{"type":"tick","size":33,"thickness":2,"yOffset":4},"encoding":{"y":{"datum":0},"color":{"field":"g","type":"nominal","scale":{"domain":["M0","M2","M1"],"range":["#bdbdbd","#3d66b4","#d3203f"]},"legend":null}}},{"transform":[{"filter":"datum.k=='bar'"}],"mark":{"type":"bar","stroke":"#3a3a3a","strokeWidth":0.8},"encoding":{"xOffset":{"field":"gt","type":"nominal","sort":["WT","KO"],"scale":{"paddingInner":0.2,"paddingOuter":0.1}},"fill":{"field":"gt","type":"nominal","scale":{"domain":["WT","KO"],"range":["#a8a8a8","#c8102e"]},"legend":{"title":null,"orient":"none","legendX":1,"legendY":0,"padding":0,"symbolType":"square","symbolSize":60,"symbolStrokeColor":"#3a3a3a","symbolStrokeWidth":0.8,"labelFontSize":8.5,"labelColor":"#222222","labelOffset":3,"labelBaseline":"top","rowPadding":-4,"labelExpr":"datum.value=='KO'?['Cd38','KO']:datum.label","encode":{"labels":{"update":{"dy":{"value":-4.5},"lineHeight":{"value":8.5}}}}}}}},{"transform":[{"filter":"datum.k=='bar'"}],"mark":{"type":"rule","color":"#262626","strokeWidth":1.4},"encoding":{"xOffset":{"field":"gt","type":"nominal","sort":["WT","KO"]},"y2":{"field":"hi"}}},{"transform":[{"filter":"datum.k=='bar'"}],"mark":{"type":"tick","color":"#262626","size":7,"thickness":1.4},"encoding":{"xOffset":{"field":"gt","type":"nominal","sort":["WT","KO"]},"y":{"field":"hi","type":"quantitative"}}},{"transform":[{"filter":"datum.k=='pt'"}],"mark":{"type":"point","filled":false,"stroke":"#333333","strokeWidth":0.9,"size":32,"opacity":1},"encoding":{"xOffset":{"field":"gt","type":"nominal","sort":["WT","KO"]},"shape":{"field":"r","type":"nominal","scale":{"domain":[1,2,3],"range":["M-2.53,0A1.13,1.13,0,1,0,-0.27,0A1.13,1.13,0,1,0,-2.53,0Z","M-1.13,0A1.13,1.13,0,1,0,1.13,0A1.13,1.13,0,1,0,-1.13,0Z","M0.27,0A1.13,1.13,0,1,0,2.53,0A1.13,1.13,0,1,0,0.27,0Z"]},"legend":null}}},{"transform":[{"filter":"datum.k=='st'"}],"mark":{"type":"text","fontSize":9.5,"baseline":"alphabetic","color":"#222222"},"encoding":{"xOffset":{"field":"gt","type":"nominal","sort":["WT","KO"]},"text":{"field":"t"}}},{"transform":[{"filter":"datum.k=='br'"}],"mark":{"type":"tick","size":15,"thickness":1,"color":"#222222"},"encoding":{}},{"transform":[{"filter":"datum.k=='br'&&indexof(datum.t,'*')<0"}],"mark":{"type":"text","fontSize":9.5,"baseline":"alphabetic","dy":-3,"color":"#222222"},"encoding":{"text":{"field":"t"}}},{"transform":[{"filter":"datum.k=='br'&&indexof(datum.t,'*')>=0"}],"mark":{"type":"text","fontSize":9.5,"baseline":"alphabetic","dy":1,"color":"#222222"},"encoding":{"text":{"field":"t"}}}]}
]}
]},
{"title":{"text":"Corrected","fontSize":10,"fontWeight":"bold","anchor":"middle","offset":18},
"spacing":19,
"resolve":{"scale":{"fill":"independent","xOffset":"independent","color":"independent","shape":"independent"}},
"hconcat":[
{"title":{"text":"e","anchor":"start","fontWeight":"bold","fontSize":11,"offset":-5},
"columns":3,"spacing":{"row":3,"column":22},
"resolve":{"scale":{"fill":"independent","xOffset":"independent","color":"independent","shape":"independent"}},
"concat":[
{"width":120,"height":110,"data":{"name":"d"},"transform":[{"filter":"datum.p=='NAD'&&datum.s!='O'"}],"encoding":{"x":{"field":"g","type":"nominal","sort":["M0","M2","M1"],"scale":{"paddingInner":0.12,"paddingOuter":0.1},"axis":{"title":null,"labelAngle":0,"ticks":false,"tickSize":0,"labelPadding":7,"domainColor":"#c8c8c8","labelFontSize":10}},"y":{"field":"v","type":"quantitative","scale":{"domain":[0,250],"nice":false},"axis":{"values":[0,50,100,150,200,250],"title":["Normalized","peak area"]}}},
"layer":[{"transform":[{"filter":"datum.k=='bar'&&datum.gt=='WT'&&datum.g=='M2'"}],"mark":{"type":"text","fontSize":10,"baseline":"middle","dy":-13,"color":"#222222"},"encoding":{"y":{"datum":250},"text":{"value":"NAD"}}},{"transform":[{"filter":"datum.k=='bar'&&datum.gt=='WT'"}],"mark":{"type":"tick","size":33,"thickness":2,"yOffset":4},"encoding":{"y":{"datum":0},"color":{"field":"g","type":"nominal","scale":{"domain":["M0","M2","M1"],"range":["#bdbdbd","#3d66b4","#d3203f"]},"legend":null}}},{"transform":[{"filter":"datum.k=='bar'"}],"mark":{"type":"bar","stroke":"#3a3a3a","strokeWidth":0.8},"encoding":{"xOffset":{"field":"gt","type":"nominal","sort":["WT","KO"],"scale":{"paddingInner":0.2,"paddingOuter":0.1}},"fill":{"field":"gt","type":"nominal","scale":{"domain":["WT","KO"],"range":["#a8a8a8","#c8102e"]},"legend":{"title":null,"orient":"none","legendX":1,"legendY":0,"padding":0,"symbolType":"square","symbolSize":60,"symbolStrokeColor":"#3a3a3a","symbolStrokeWidth":0.8,"labelFontSize":8.5,"labelColor":"#222222","labelOffset":3,"labelBaseline":"top","rowPadding":-4,"labelExpr":"datum.value=='KO'?['Cd38','KO']:datum.label","encode":{"labels":{"update":{"dy":{"value":-4.5},"lineHeight":{"value":8.5}}}}}}}},{"transform":[{"filter":"datum.k=='bar'"}],"mark":{"type":"rule","color":"#262626","strokeWidth":1.4},"encoding":{"xOffset":{"field":"gt","type":"nominal","sort":["WT","KO"]},"y2":{"field":"hi"}}},{"transform":[{"filter":"datum.k=='bar'"}],"mark":{"type":"tick","color":"#262626","size":7,"thickness":1.4},"encoding":{"xOffset":{"field":"gt","type":"nominal","sort":["WT","KO"]},"y":{"field":"hi","type":"quantitative"}}},{"transform":[{"filter":"datum.k=='pt'"}],"mark":{"type":"point","filled":false,"stroke":"#333333","strokeWidth":0.9,"size":32,"opacity":1},"encoding":{"xOffset":{"field":"gt","type":"nominal","sort":["WT","KO"]},"shape":{"field":"r","type":"nominal","scale":{"domain":[1,2,3],"range":["M-2.53,0A1.13,1.13,0,1,0,-0.27,0A1.13,1.13,0,1,0,-2.53,0Z","M-1.13,0A1.13,1.13,0,1,0,1.13,0A1.13,1.13,0,1,0,-1.13,0Z","M0.27,0A1.13,1.13,0,1,0,2.53,0A1.13,1.13,0,1,0,0.27,0Z"]},"legend":null}}},{"transform":[{"filter":"datum.k=='st'"}],"mark":{"type":"text","fontSize":9.5,"baseline":"alphabetic","color":"#222222"},"encoding":{"xOffset":{"field":"gt","type":"nominal","sort":["WT","KO"]},"text":{"field":"t"}}},{"transform":[{"filter":"datum.k=='br'"}],"mark":{"type":"tick","size":15,"thickness":1,"color":"#222222"},"encoding":{}},{"transform":[{"filter":"datum.k=='br'&&indexof(datum.t,'*')<0"}],"mark":{"type":"text","fontSize":9.5,"baseline":"alphabetic","dy":-3,"color":"#222222"},"encoding":{"text":{"field":"t"}}},{"transform":[{"filter":"datum.k=='br'&&indexof(datum.t,'*')>=0"}],"mark":{"type":"text","fontSize":9.5,"baseline":"alphabetic","dy":1,"color":"#222222"},"encoding":{"text":{"field":"t"}}}]},
{"width":120,"height":110,"data":{"name":"d"},"transform":[{"filter":"datum.p=='NAM'&&datum.s!='O'"}],"encoding":{"x":{"field":"g","type":"nominal","sort":["M0","M2","M1"],"scale":{"paddingInner":0.12,"paddingOuter":0.1},"axis":{"title":null,"labelAngle":0,"ticks":false,"tickSize":0,"labelPadding":7,"domainColor":"#c8c8c8","labelFontSize":10}},"y":{"field":"v","type":"quantitative","scale":{"domain":[0,80],"nice":false},"axis":{"values":[0,20,40,60,80],"title":null}}},
"layer":[{"transform":[{"filter":"datum.k=='bar'&&datum.gt=='WT'&&datum.g=='M2'"}],"mark":{"type":"text","fontSize":10,"baseline":"middle","dy":-13,"color":"#222222"},"encoding":{"y":{"datum":80},"text":{"value":"NAM"}}},{"transform":[{"filter":"datum.k=='bar'&&datum.gt=='WT'"}],"mark":{"type":"tick","size":33,"thickness":2,"yOffset":4},"encoding":{"y":{"datum":0},"color":{"field":"g","type":"nominal","scale":{"domain":["M0","M2","M1"],"range":["#bdbdbd","#3d66b4","#d3203f"]},"legend":null}}},{"transform":[{"filter":"datum.k=='bar'"}],"mark":{"type":"bar","stroke":"#3a3a3a","strokeWidth":0.8},"encoding":{"xOffset":{"field":"gt","type":"nominal","sort":["WT","KO"],"scale":{"paddingInner":0.2,"paddingOuter":0.1}},"fill":{"field":"gt","type":"nominal","scale":{"domain":["WT","KO"],"range":["#a8a8a8","#c8102e"]},"legend":{"title":null,"orient":"none","legendX":1,"legendY":0,"padding":0,"symbolType":"square","symbolSize":60,"symbolStrokeColor":"#3a3a3a","symbolStrokeWidth":0.8,"labelFontSize":8.5,"labelColor":"#222222","labelOffset":3,"labelBaseline":"top","rowPadding":-4,"labelExpr":"datum.value=='KO'?['Cd38','KO']:datum.label","encode":{"labels":{"update":{"dy":{"value":-4.5},"lineHeight":{"value":8.5}}}}}}}},{"transform":[{"filter":"datum.k=='bar'"}],"mark":{"type":"rule","color":"#262626","strokeWidth":1.4},"encoding":{"xOffset":{"field":"gt","type":"nominal","sort":["WT","KO"]},"y2":{"field":"hi"}}},{"transform":[{"filter":"datum.k=='bar'"}],"mark":{"type":"tick","color":"#262626","size":7,"thickness":1.4},"encoding":{"xOffset":{"field":"gt","type":"nominal","sort":["WT","KO"]},"y":{"field":"hi","type":"quantitative"}}},{"transform":[{"filter":"datum.k=='pt'"}],"mark":{"type":"point","filled":false,"stroke":"#333333","strokeWidth":0.9,"size":32,"opacity":1},"encoding":{"xOffset":{"field":"gt","type":"nominal","sort":["WT","KO"]},"shape":{"field":"r","type":"nominal","scale":{"domain":[1,2,3],"range":["M-2.53,0A1.13,1.13,0,1,0,-0.27,0A1.13,1.13,0,1,0,-2.53,0Z","M-1.13,0A1.13,1.13,0,1,0,1.13,0A1.13,1.13,0,1,0,-1.13,0Z","M0.27,0A1.13,1.13,0,1,0,2.53,0A1.13,1.13,0,1,0,0.27,0Z"]},"legend":null}}},{"transform":[{"filter":"datum.k=='st'"}],"mark":{"type":"text","fontSize":9.5,"baseline":"alphabetic","color":"#222222"},"encoding":{"xOffset":{"field":"gt","type":"nominal","sort":["WT","KO"]},"text":{"field":"t"}}},{"transform":[{"filter":"datum.k=='br'"}],"mark":{"type":"tick","size":15,"thickness":1,"color":"#222222"},"encoding":{}},{"transform":[{"filter":"datum.k=='br'&&indexof(datum.t,'*')<0"}],"mark":{"type":"text","fontSize":9.5,"baseline":"alphabetic","dy":-3,"color":"#222222"},"encoding":{"text":{"field":"t"}}},{"transform":[{"filter":"datum.k=='br'&&indexof(datum.t,'*')>=0"}],"mark":{"type":"text","fontSize":9.5,"baseline":"alphabetic","dy":1,"color":"#222222"},"encoding":{"text":{"field":"t"}}}]},
{"width":120,"height":110,"data":{"name":"d"},"transform":[{"filter":"datum.p=='ADPR'&&datum.s!='O'"}],"encoding":{"x":{"field":"g","type":"nominal","sort":["M0","M2","M1"],"scale":{"paddingInner":0.12,"paddingOuter":0.1},"axis":{"title":null,"labelAngle":0,"ticks":false,"tickSize":0,"labelPadding":7,"domainColor":"#c8c8c8","labelFontSize":10}},"y":{"field":"v","type":"quantitative","scale":{"domain":[0,150],"nice":false},"axis":{"values":[0,50,100,150],"title":null}}},
"layer":[{"transform":[{"filter":"datum.k=='bar'&&datum.gt=='WT'&&datum.g=='M2'"}],"mark":{"type":"text","fontSize":10,"baseline":"middle","dy":-13,"color":"#222222"},"encoding":{"y":{"datum":150},"text":{"value":"ADPR"}}},{"transform":[{"filter":"datum.k=='bar'&&datum.gt=='WT'"}],"mark":{"type":"tick","size":33,"thickness":2,"yOffset":4},"encoding":{"y":{"datum":0},"color":{"field":"g","type":"nominal","scale":{"domain":["M0","M2","M1"],"range":["#bdbdbd","#3d66b4","#d3203f"]},"legend":null}}},{"transform":[{"filter":"datum.k=='bar'"}],"mark":{"type":"bar","stroke":"#3a3a3a","strokeWidth":0.8},"encoding":{"xOffset":{"field":"gt","type":"nominal","sort":["WT","KO"],"scale":{"paddingInner":0.2,"paddingOuter":0.1}},"fill":{"field":"gt","type":"nominal","scale":{"domain":["WT","KO"],"range":["#a8a8a8","#c8102e"]},"legend":{"title":null,"orient":"none","legendX":1,"legendY":0,"padding":0,"symbolType":"square","symbolSize":60,"symbolStrokeColor":"#3a3a3a","symbolStrokeWidth":0.8,"labelFontSize":8.5,"labelColor":"#222222","labelOffset":3,"labelBaseline":"top","rowPadding":-4,"labelExpr":"datum.value=='KO'?['Cd38','KO']:datum.label","encode":{"labels":{"update":{"dy":{"value":-4.5},"lineHeight":{"value":8.5}}}}}}}},{"transform":[{"filter":"datum.k=='bar'"}],"mark":{"type":"rule","color":"#262626","strokeWidth":1.4},"encoding":{"xOffset":{"field":"gt","type":"nominal","sort":["WT","KO"]},"y2":{"field":"hi"}}},{"transform":[{"filter":"datum.k=='bar'"}],"mark":{"type":"tick","color":"#262626","size":7,"thickness":1.4},"encoding":{"xOffset":{"field":"gt","type":"nominal","sort":["WT","KO"]},"y":{"field":"hi","type":"quantitative"}}},{"transform":[{"filter":"datum.k=='pt'"}],"mark":{"type":"point","filled":false,"stroke":"#333333","strokeWidth":0.9,"size":32,"opacity":1},"encoding":{"xOffset":{"field":"gt","type":"nominal","sort":["WT","KO"]},"shape":{"field":"r","type":"nominal","scale":{"domain":[1,2,3],"range":["M-2.53,0A1.13,1.13,0,1,0,-0.27,0A1.13,1.13,0,1,0,-2.53,0Z","M-1.13,0A1.13,1.13,0,1,0,1.13,0A1.13,1.13,0,1,0,-1.13,0Z","M0.27,0A1.13,1.13,0,1,0,2.53,0A1.13,1.13,0,1,0,0.27,0Z"]},"legend":null}}},{"transform":[{"filter":"datum.k=='st'"}],"mark":{"type":"text","fontSize":9.5,"baseline":"alphabetic","color":"#222222"},"encoding":{"xOffset":{"field":"gt","type":"nominal","sort":["WT","KO"]},"text":{"field":"t"}}},{"transform":[{"filter":"datum.k=='br'"}],"mark":{"type":"tick","size":15,"thickness":1,"color":"#222222"},"encoding":{}},{"transform":[{"filter":"datum.k=='br'&&indexof(datum.t,'*')<0"}],"mark":{"type":"text","fontSize":9.5,"baseline":"alphabetic","dy":-3,"color":"#222222"},"encoding":{"text":{"field":"t"}}},{"transform":[{"filter":"datum.k=='br'&&indexof(datum.t,'*')>=0"}],"mark":{"type":"text","fontSize":9.5,"baseline":"alphabetic","dy":1,"color":"#222222"},"encoding":{"text":{"field":"t"}}}]},
{"width":120,"height":110,"data":{"name":"d"},"transform":[{"filter":"datum.p=='NADP'&&datum.s!='O'"}],"encoding":{"x":{"field":"g","type":"nominal","sort":["M0","M2","M1"],"scale":{"paddingInner":0.12,"paddingOuter":0.1},"axis":{"title":null,"labelAngle":0,"ticks":false,"tickSize":0,"labelPadding":7,"domainColor":"#c8c8c8","labelFontSize":10}},"y":{"field":"v","type":"quantitative","scale":{"domain":[0,100],"nice":false},"axis":{"values":[0,20,40,60,80,100],"title":["Normalized","peak area"]}}},
"layer":[{"transform":[{"filter":"datum.k=='bar'&&datum.gt=='WT'&&datum.g=='M2'"}],"mark":{"type":"text","fontSize":10,"baseline":"middle","dy":-10,"color":"#222222"},"encoding":{"y":{"datum":100},"text":{"value":"NADP"}}},{"transform":[{"filter":"datum.k=='bar'&&datum.gt=='WT'"}],"mark":{"type":"tick","size":33,"thickness":2,"yOffset":4},"encoding":{"y":{"datum":0},"color":{"field":"g","type":"nominal","scale":{"domain":["M0","M2","M1"],"range":["#bdbdbd","#3d66b4","#d3203f"]},"legend":null}}},{"transform":[{"filter":"datum.k=='bar'"}],"mark":{"type":"bar","stroke":"#3a3a3a","strokeWidth":0.8},"encoding":{"xOffset":{"field":"gt","type":"nominal","sort":["WT","KO"],"scale":{"paddingInner":0.2,"paddingOuter":0.1}},"fill":{"field":"gt","type":"nominal","scale":{"domain":["WT","KO"],"range":["#a8a8a8","#c8102e"]},"legend":{"title":null,"orient":"none","legendX":1,"legendY":0,"padding":0,"symbolType":"square","symbolSize":60,"symbolStrokeColor":"#3a3a3a","symbolStrokeWidth":0.8,"labelFontSize":8.5,"labelColor":"#222222","labelOffset":3,"labelBaseline":"top","rowPadding":-4,"labelExpr":"datum.value=='KO'?['Cd38','KO']:datum.label","encode":{"labels":{"update":{"dy":{"value":-4.5},"lineHeight":{"value":8.5}}}}}}}},{"transform":[{"filter":"datum.k=='bar'"}],"mark":{"type":"rule","color":"#262626","strokeWidth":1.4},"encoding":{"xOffset":{"field":"gt","type":"nominal","sort":["WT","KO"]},"y2":{"field":"hi"}}},{"transform":[{"filter":"datum.k=='bar'"}],"mark":{"type":"tick","color":"#262626","size":7,"thickness":1.4},"encoding":{"xOffset":{"field":"gt","type":"nominal","sort":["WT","KO"]},"y":{"field":"hi","type":"quantitative"}}},{"transform":[{"filter":"datum.k=='pt'"}],"mark":{"type":"point","filled":false,"stroke":"#333333","strokeWidth":0.9,"size":32,"opacity":1},"encoding":{"xOffset":{"field":"gt","type":"nominal","sort":["WT","KO"]},"shape":{"field":"r","type":"nominal","scale":{"domain":[1,2,3],"range":["M-2.53,0A1.13,1.13,0,1,0,-0.27,0A1.13,1.13,0,1,0,-2.53,0Z","M-1.13,0A1.13,1.13,0,1,0,1.13,0A1.13,1.13,0,1,0,-1.13,0Z","M0.27,0A1.13,1.13,0,1,0,2.53,0A1.13,1.13,0,1,0,0.27,0Z"]},"legend":null}}},{"transform":[{"filter":"datum.k=='st'"}],"mark":{"type":"text","fontSize":9.5,"baseline":"alphabetic","color":"#222222"},"encoding":{"xOffset":{"field":"gt","type":"nominal","sort":["WT","KO"]},"text":{"field":"t"}}},{"transform":[{"filter":"datum.k=='br'"}],"mark":{"type":"tick","size":15,"thickness":1,"color":"#222222"},"encoding":{}},{"transform":[{"filter":"datum.k=='br'&&indexof(datum.t,'*')<0"}],"mark":{"type":"text","fontSize":9.5,"baseline":"alphabetic","dy":-3,"color":"#222222"},"encoding":{"text":{"field":"t"}}},{"transform":[{"filter":"datum.k=='br'&&indexof(datum.t,'*')>=0"}],"mark":{"type":"text","fontSize":9.5,"baseline":"alphabetic","dy":1,"color":"#222222"},"encoding":{"text":{"field":"t"}}}]},
{"width":120,"height":110,"data":{"name":"d"},"transform":[{"filter":"datum.p=='ADP'&&datum.s!='O'"}],"encoding":{"x":{"field":"g","type":"nominal","sort":["M0","M2","M1"],"scale":{"paddingInner":0.12,"paddingOuter":0.1},"axis":{"title":null,"labelAngle":0,"ticks":false,"tickSize":0,"labelPadding":7,"domainColor":"#c8c8c8","labelFontSize":10}},"y":{"field":"v","type":"quantitative","scale":{"domain":[0,400],"nice":false},"axis":{"values":[0,100,200,300,400],"title":null}}},
"layer":[{"transform":[{"filter":"datum.k=='bar'&&datum.gt=='WT'&&datum.g=='M2'"}],"mark":{"type":"text","fontSize":10,"baseline":"middle","dy":-10,"color":"#222222"},"encoding":{"y":{"datum":400},"text":{"value":"ADP"}}},{"transform":[{"filter":"datum.k=='bar'&&datum.gt=='WT'"}],"mark":{"type":"tick","size":33,"thickness":2,"yOffset":4},"encoding":{"y":{"datum":0},"color":{"field":"g","type":"nominal","scale":{"domain":["M0","M2","M1"],"range":["#bdbdbd","#3d66b4","#d3203f"]},"legend":null}}},{"transform":[{"filter":"datum.k=='bar'"}],"mark":{"type":"bar","stroke":"#3a3a3a","strokeWidth":0.8},"encoding":{"xOffset":{"field":"gt","type":"nominal","sort":["WT","KO"],"scale":{"paddingInner":0.2,"paddingOuter":0.1}},"fill":{"field":"gt","type":"nominal","scale":{"domain":["WT","KO"],"range":["#a8a8a8","#c8102e"]},"legend":{"title":null,"orient":"none","legendX":1,"legendY":0,"padding":0,"symbolType":"square","symbolSize":60,"symbolStrokeColor":"#3a3a3a","symbolStrokeWidth":0.8,"labelFontSize":8.5,"labelColor":"#222222","labelOffset":3,"labelBaseline":"top","rowPadding":-4,"labelExpr":"datum.value=='KO'?['Cd38','KO']:datum.label","encode":{"labels":{"update":{"dy":{"value":-4.5},"lineHeight":{"value":8.5}}}}}}}},{"transform":[{"filter":"datum.k=='bar'"}],"mark":{"type":"rule","color":"#262626","strokeWidth":1.4},"encoding":{"xOffset":{"field":"gt","type":"nominal","sort":["WT","KO"]},"y2":{"field":"hi"}}},{"transform":[{"filter":"datum.k=='bar'"}],"mark":{"type":"tick","color":"#262626","size":7,"thickness":1.4},"encoding":{"xOffset":{"field":"gt","type":"nominal","sort":["WT","KO"]},"y":{"field":"hi","type":"quantitative"}}},{"transform":[{"filter":"datum.k=='pt'"}],"mark":{"type":"point","filled":false,"stroke":"#333333","strokeWidth":0.9,"size":32,"opacity":1},"encoding":{"xOffset":{"field":"gt","type":"nominal","sort":["WT","KO"]},"shape":{"field":"r","type":"nominal","scale":{"domain":[1,2,3],"range":["M-2.53,0A1.13,1.13,0,1,0,-0.27,0A1.13,1.13,0,1,0,-2.53,0Z","M-1.13,0A1.13,1.13,0,1,0,1.13,0A1.13,1.13,0,1,0,-1.13,0Z","M0.27,0A1.13,1.13,0,1,0,2.53,0A1.13,1.13,0,1,0,0.27,0Z"]},"legend":null}}},{"transform":[{"filter":"datum.k=='st'"}],"mark":{"type":"text","fontSize":9.5,"baseline":"alphabetic","color":"#222222"},"encoding":{"xOffset":{"field":"gt","type":"nominal","sort":["WT","KO"]},"text":{"field":"t"}}},{"transform":[{"filter":"datum.k=='br'"}],"mark":{"type":"tick","size":15,"thickness":1,"color":"#222222"},"encoding":{}},{"transform":[{"filter":"datum.k=='br'&&indexof(datum.t,'*')<0"}],"mark":{"type":"text","fontSize":9.5,"baseline":"alphabetic","dy":-3,"color":"#222222"},"encoding":{"text":{"field":"t"}}},{"transform":[{"filter":"datum.k=='br'&&indexof(datum.t,'*')>=0"}],"mark":{"type":"text","fontSize":9.5,"baseline":"alphabetic","dy":1,"color":"#222222"},"encoding":{"text":{"field":"t"}}}]},
{"width":120,"height":110,"data":{"name":"d"},"transform":[{"filter":"datum.p=='NMN'&&datum.s!='O'"}],"encoding":{"x":{"field":"g","type":"nominal","sort":["M0","M2","M1"],"scale":{"paddingInner":0.12,"paddingOuter":0.1},"axis":{"title":null,"labelAngle":0,"ticks":false,"tickSize":0,"labelPadding":7,"domainColor":"#c8c8c8","labelFontSize":10}},"y":{"field":"v","type":"quantitative","scale":{"domain":[0,15],"nice":false},"axis":{"values":[0,5,10,15],"title":null}}},
"layer":[{"transform":[{"filter":"datum.k=='bar'&&datum.gt=='WT'&&datum.g=='M2'"}],"mark":{"type":"text","fontSize":10,"baseline":"middle","dy":-10,"color":"#222222"},"encoding":{"y":{"datum":15},"text":{"value":"NMN"}}},{"transform":[{"filter":"datum.k=='bar'&&datum.gt=='WT'"}],"mark":{"type":"tick","size":33,"thickness":2,"yOffset":4},"encoding":{"y":{"datum":0},"color":{"field":"g","type":"nominal","scale":{"domain":["M0","M2","M1"],"range":["#bdbdbd","#3d66b4","#d3203f"]},"legend":null}}},{"transform":[{"filter":"datum.k=='bar'"}],"mark":{"type":"bar","stroke":"#3a3a3a","strokeWidth":0.8},"encoding":{"xOffset":{"field":"gt","type":"nominal","sort":["WT","KO"],"scale":{"paddingInner":0.2,"paddingOuter":0.1}},"fill":{"field":"gt","type":"nominal","scale":{"domain":["WT","KO"],"range":["#a8a8a8","#c8102e"]},"legend":{"title":null,"orient":"none","legendX":1,"legendY":0,"padding":0,"symbolType":"square","symbolSize":60,"symbolStrokeColor":"#3a3a3a","symbolStrokeWidth":0.8,"labelFontSize":8.5,"labelColor":"#222222","labelOffset":3,"labelBaseline":"top","rowPadding":-4,"labelExpr":"datum.value=='KO'?['Cd38','KO']:datum.label","encode":{"labels":{"update":{"dy":{"value":-4.5},"lineHeight":{"value":8.5}}}}}}}},{"transform":[{"filter":"datum.k=='bar'"}],"mark":{"type":"rule","color":"#262626","strokeWidth":1.4},"encoding":{"xOffset":{"field":"gt","type":"nominal","sort":["WT","KO"]},"y2":{"field":"hi"}}},{"transform":[{"filter":"datum.k=='bar'"}],"mark":{"type":"tick","color":"#262626","size":7,"thickness":1.4},"encoding":{"xOffset":{"field":"gt","type":"nominal","sort":["WT","KO"]},"y":{"field":"hi","type":"quantitative"}}},{"transform":[{"filter":"datum.k=='pt'"}],"mark":{"type":"point","filled":false,"stroke":"#333333","strokeWidth":0.9,"size":32,"opacity":1},"encoding":{"xOffset":{"field":"gt","type":"nominal","sort":["WT","KO"]},"shape":{"field":"r","type":"nominal","scale":{"domain":[1,2,3],"range":["M-2.53,0A1.13,1.13,0,1,0,-0.27,0A1.13,1.13,0,1,0,-2.53,0Z","M-1.13,0A1.13,1.13,0,1,0,1.13,0A1.13,1.13,0,1,0,-1.13,0Z","M0.27,0A1.13,1.13,0,1,0,2.53,0A1.13,1.13,0,1,0,0.27,0Z"]},"legend":null}}},{"transform":[{"filter":"datum.k=='st'"}],"mark":{"type":"text","fontSize":9.5,"baseline":"alphabetic","color":"#222222"},"encoding":{"xOffset":{"field":"gt","type":"nominal","sort":["WT","KO"]},"text":{"field":"t"}}},{"transform":[{"filter":"datum.k=='br'"}],"mark":{"type":"tick","size":15,"thickness":1,"color":"#222222"},"encoding":{}},{"transform":[{"filter":"datum.k=='br'&&indexof(datum.t,'*')<0"}],"mark":{"type":"text","fontSize":9.5,"baseline":"alphabetic","dy":-3,"color":"#222222"},"encoding":{"text":{"field":"t"}}},{"transform":[{"filter":"datum.k=='br'&&indexof(datum.t,'*')>=0"}],"mark":{"type":"text","fontSize":9.5,"baseline":"alphabetic","dy":1,"color":"#222222"},"encoding":{"text":{"field":"t"}}}]}
]},
{"title":{"text":"f","anchor":"start","fontWeight":"bold","fontSize":11,"offset":-5},
"resolve":{"scale":{"fill":"independent","xOffset":"independent","color":"independent","shape":"independent"}},
"vconcat":[
{"width":120,"height":110,"data":{"name":"d"},"transform":[{"filter":"datum.p=='RAT'&&datum.s!='O'"}],"encoding":{"x":{"field":"g","type":"nominal","sort":["M0","M2","M1"],"scale":{"paddingInner":0.12,"paddingOuter":0.1},"axis":{"title":null,"labelAngle":0,"ticks":false,"tickSize":0,"labelPadding":7,"domainColor":"#c8c8c8","labelFontSize":10}},"y":{"field":"v","type":"quantitative","scale":{"domain":[0,25],"nice":false},"axis":{"values":[0,5,10,15,20,25],"title":"NAD/NAM","titlePadding":6}}},
"layer":[{"transform":[{"filter":"datum.k=='bar'&&datum.gt=='WT'&&datum.g=='M2'"}],"mark":{"type":"text","fontSize":10,"baseline":"middle","dy":-13,"color":"#222222"},"encoding":{"y":{"datum":25},"text":{"value":"NAD/NAM"}}},{"transform":[{"filter":"datum.k=='bar'&&datum.gt=='WT'"}],"mark":{"type":"tick","size":33,"thickness":2,"yOffset":4},"encoding":{"y":{"datum":0},"color":{"field":"g","type":"nominal","scale":{"domain":["M0","M2","M1"],"range":["#bdbdbd","#3d66b4","#d3203f"]},"legend":null}}},{"transform":[{"filter":"datum.k=='bar'"}],"mark":{"type":"bar","stroke":"#3a3a3a","strokeWidth":0.8},"encoding":{"xOffset":{"field":"gt","type":"nominal","sort":["WT","KO"],"scale":{"paddingInner":0.2,"paddingOuter":0.1}},"fill":{"field":"gt","type":"nominal","scale":{"domain":["WT","KO"],"range":["#a8a8a8","#c8102e"]},"legend":{"title":null,"orient":"none","legendX":1,"legendY":0,"padding":0,"symbolType":"square","symbolSize":60,"symbolStrokeColor":"#3a3a3a","symbolStrokeWidth":0.8,"labelFontSize":8.5,"labelColor":"#222222","labelOffset":3,"labelBaseline":"top","rowPadding":-4,"labelExpr":"datum.value=='KO'?['Cd38','KO']:datum.label","encode":{"labels":{"update":{"dy":{"value":-4.5},"lineHeight":{"value":8.5}}}}}}}},{"transform":[{"filter":"datum.k=='bar'"}],"mark":{"type":"rule","color":"#262626","strokeWidth":1.4},"encoding":{"xOffset":{"field":"gt","type":"nominal","sort":["WT","KO"]},"y2":{"field":"hi"}}},{"transform":[{"filter":"datum.k=='bar'"}],"mark":{"type":"tick","color":"#262626","size":7,"thickness":1.4},"encoding":{"xOffset":{"field":"gt","type":"nominal","sort":["WT","KO"]},"y":{"field":"hi","type":"quantitative"}}},{"transform":[{"filter":"datum.k=='pt'"}],"mark":{"type":"point","filled":false,"stroke":"#333333","strokeWidth":0.9,"size":32,"opacity":1},"encoding":{"xOffset":{"field":"gt","type":"nominal","sort":["WT","KO"]},"shape":{"field":"r","type":"nominal","scale":{"domain":[1,2,3],"range":["M-2.53,0A1.13,1.13,0,1,0,-0.27,0A1.13,1.13,0,1,0,-2.53,0Z","M-1.13,0A1.13,1.13,0,1,0,1.13,0A1.13,1.13,0,1,0,-1.13,0Z","M0.27,0A1.13,1.13,0,1,0,2.53,0A1.13,1.13,0,1,0,0.27,0Z"]},"legend":null}}},{"transform":[{"filter":"datum.k=='st'"}],"mark":{"type":"text","fontSize":9.5,"baseline":"alphabetic","color":"#222222"},"encoding":{"xOffset":{"field":"gt","type":"nominal","sort":["WT","KO"]},"text":{"field":"t"}}},{"transform":[{"filter":"datum.k=='br'"}],"mark":{"type":"tick","size":15,"thickness":1,"color":"#222222"},"encoding":{}},{"transform":[{"filter":"datum.k=='br'&&indexof(datum.t,'*')<0"}],"mark":{"type":"text","fontSize":9.5,"baseline":"alphabetic","dy":-3,"color":"#222222"},"encoding":{"text":{"field":"t"}}},{"transform":[{"filter":"datum.k=='br'&&indexof(datum.t,'*')>=0"}],"mark":{"type":"text","fontSize":9.5,"baseline":"alphabetic","dy":1,"color":"#222222"},"encoding":{"text":{"field":"t"}}}]}
]}
]}
]
}
